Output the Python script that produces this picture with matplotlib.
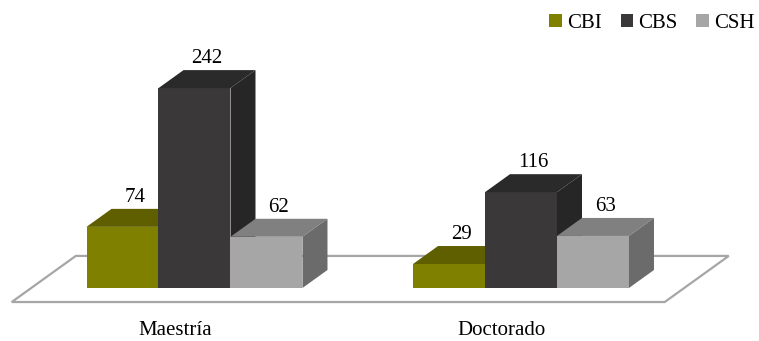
import numpy as np
import matplotlib.pyplot as plt
from matplotlib.patches import Polygon, Patch

plt.rcParams['font.family'] = ['Liberation Serif', 'DejaVu Serif']

categorias = ["Maestría", "Doctorado"]
series = ["CBI", "CBS", "CSH"]
cbi = [74, 29]
cbs = [242, 116]
csh = [62, 63]
valores = [cbi, cbs, csh]

# colores: frente, tapa, lado
frente = ["#808000", "#3a3839", "#a6a6a6"]
tapa = ["#5f5f00", "#2b2a2b", "#808080"]
lado = ["#4f4f00", "#272627", "#6b6b6b"]

w = 0.2205          # ancho de barra (unidades de categoria)
kx, ky = 0.0766, 21.8   # desplazamiento de profundidad en x e y
piso_frente, piso_fondo = -0.78, 1.78
fs = 15

fig = plt.figure(figsize=(7.59, 3.41), dpi=100)
ax = fig.add_axes([0, 0, 1, 1])
ax.set_xlim(-0.5957, 1.7290)
ax.set_ylim(-64.2, 348.7)
ax.axis('off')

# piso
x0, x1 = -0.5, len(categorias) - 0.5
piso = [(x0 + piso_frente * kx, piso_frente * ky),
        (x1 + piso_frente * kx, piso_frente * ky),
        (x1 + piso_fondo * kx, piso_fondo * ky),
        (x0 + piso_fondo * kx, piso_fondo * ky)]
ax.add_patch(Polygon(piso, closed=True, facecolor="white",
                     edgecolor="#a6a6a6", lw=1.6, zorder=1))

x = np.arange(len(categorias))
for i in range(len(categorias)):
    for j in range(len(series)):
        xc = x[i] + (j - 1) * w
        v = valores[j][i]
        l, r = xc - w / 2, xc + w / 2
        z = 2 + i * 3 + j
        ax.bar(xc, v, width=w, color=frente[j], zorder=z)
        ax.add_patch(Polygon([(l, v), (r, v), (r + kx, v + ky), (l + kx, v + ky)],
                             closed=True, facecolor=tapa[j], lw=0, zorder=z))
        ax.add_patch(Polygon([(r, 0), (r + kx, ky), (r + kx, v + ky), (r, v)],
                             closed=True, facecolor=lado[j], lw=0, zorder=z))
        ax.text(xc + kx / 2, v + ky + 8.5, str(v), ha='center', va='baseline',
                fontsize=fs, color="black", zorder=20)

for i, c in enumerate(categorias):
    ax.text(x[i] + piso_frente * kx, piso_frente * ky - 34, c,
            ha='center', va='center', fontsize=fs)

handles = [Patch(facecolor=frente[j], label=series[j]) for j in range(3)]
fig.legend(handles=handles, loc='upper right', bbox_to_anchor=(1.012, 1.0),
           ncol=3, frameon=False, fontsize=fs, handlelength=0.6,
           handleheight=0.6, handletextpad=0.25, columnspacing=0.9,
           borderaxespad=0.25)

fig.savefig("out.png", dpi=100)
